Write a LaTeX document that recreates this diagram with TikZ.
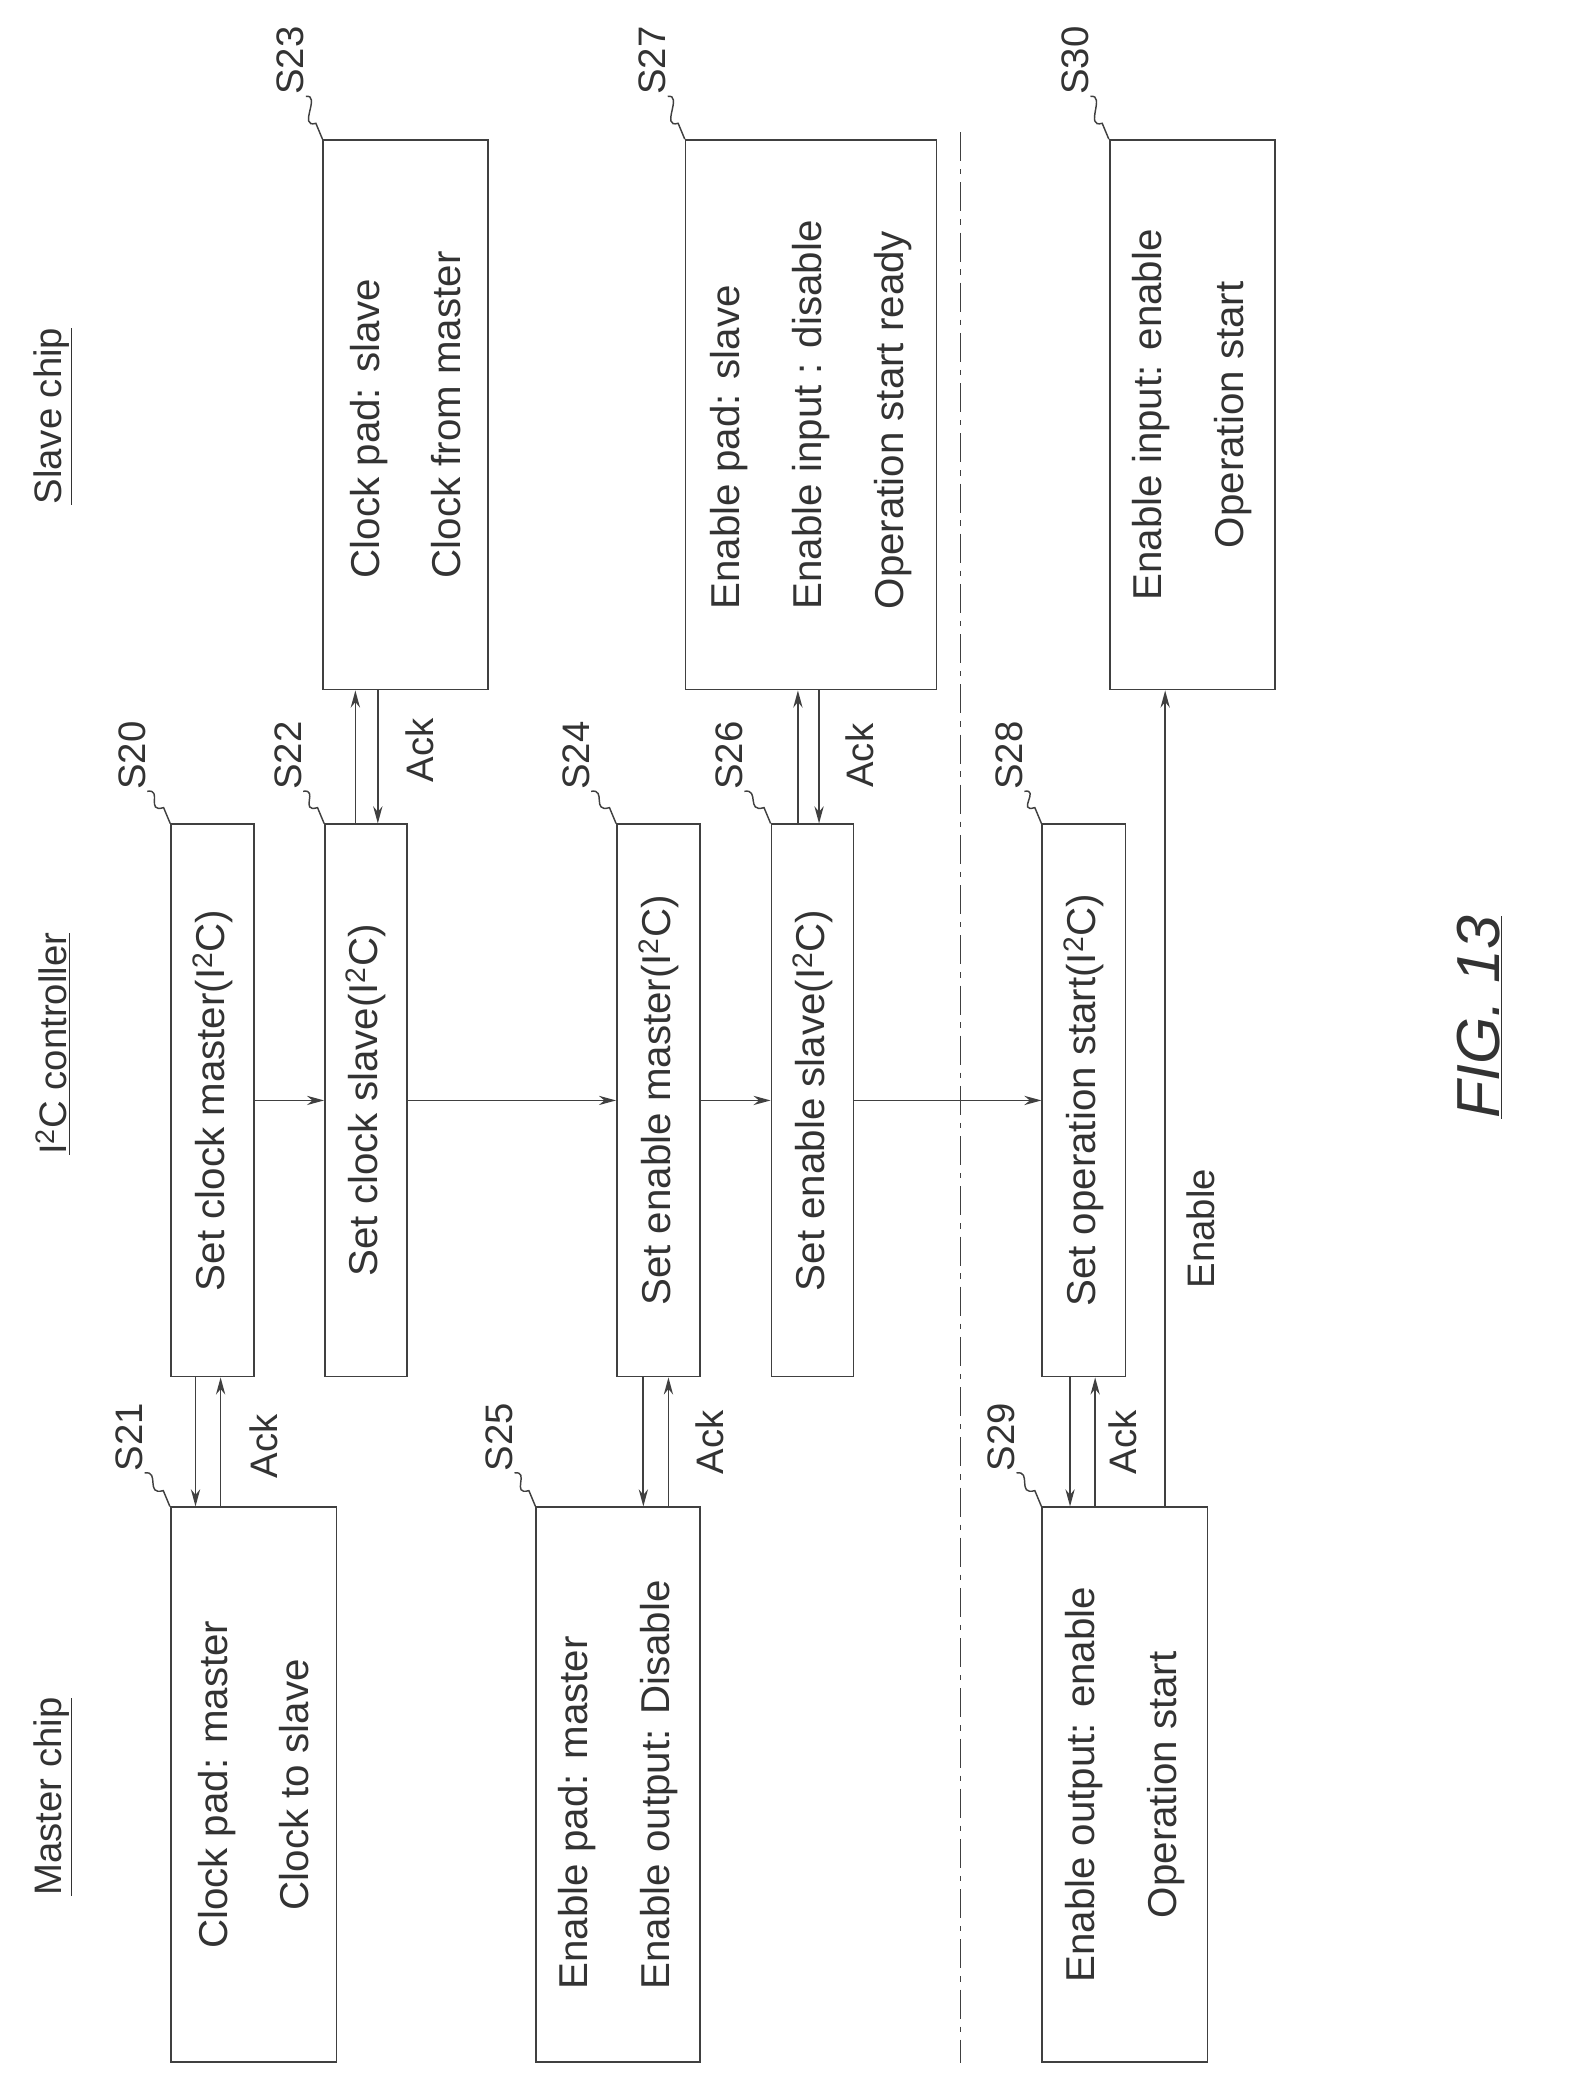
\documentclass[tikz,border=0pt]{standalone}
\usepackage{fontspec}
\setmainfont{Liberation Sans}
\usetikzlibrary{arrows.meta,calc}
\begin{document}
\begin{tikzpicture}[x=1pt,y=-1pt,
  ln/.style={line width=1.3pt, draw=black!75},
  box/.style={ln, rectangle, inner sep=0pt},
  txt/.style={rotate=90, font=\fontsize{30.5}{62}\selectfont, text=black!80, inner sep=0pt},
  lab/.style={rotate=90, font=\fontsize{29}{31}\selectfont, text=black!80, inner sep=1pt},
  arr/.style={ln, -{Stealth[length=13pt,width=7pt]}},
  lead/.style={line width=1.1pt, draw=black!75}]
\useasboundingbox (0,0) rectangle (1190,1573);
% headers
\node[lab] (h1) at (40,1360) {\underline{Master chip}};
\node[lab] (h2) at (40,790) {\underline{I\textsuperscript{2}C controller}};
\node[lab] (h3) at (40,315) {\underline{Slave chip}};
% boxes
\node[box, minimum width=125.5pt, minimum height=420pt] (S21) at (192,1351) {};
\node[box, minimum width=124pt, minimum height=420pt] (S25) at (468,1351) {};
\node[box, minimum width=125pt, minimum height=420pt] (S29) at (851.5,1351) {};
\node[box, minimum width=63pt, minimum height=418pt] (S20) at (161,833) {};
\node[box, minimum width=62pt, minimum height=418pt] (S22) at (277,833) {};
\node[box, minimum width=63pt, minimum height=418pt] (S24) at (498.5,833) {};
\node[box, minimum width=62pt, minimum height=418pt] (S26) at (615,833) {};
\node[box, minimum width=63pt, minimum height=418pt] (S28) at (820.5,833) {};
\node[box, minimum width=124.5pt, minimum height=416pt] (S23) at (307,314) {};
\node[box, minimum width=190pt, minimum height=416pt] (S27) at (614,314) {};
\node[box, minimum width=125pt, minimum height=416pt] (S30) at (902.5,314) {};
% texts
\node[txt, align=center] (t21) at (S21) {Clock pad: master\\Clock to slave};
\node[txt, align=left] (t25) at (S25) {Enable pad: master\\Enable output: Disable};
\node[txt, align=center] (t29) at (S29) {Enable output: enable\\Operation start};
\node[txt] (t20) at (S20) {Set clock master(I\textsuperscript{2}C)};
\node[txt] (t22) at (S22) {Set clock slave(I\textsuperscript{2}C)};
\node[txt] (t24) at (S24) {Set enable master(I\textsuperscript{2}C)};
\node[txt] (t26) at (S26) {Set enable slave(I\textsuperscript{2}C)};
\node[txt] (t28) at (S28) {Set operation start(I\textsuperscript{2}C)};
\node[txt, align=left] (t23) at (S23) {Clock pad: slave\\Clock from master};
\node[txt, align=left] (t27) at (S27) {Enable pad: slave\\Enable input : disable\\Operation start ready};
\node[txt, align=center] (t30) at (S30) {Enable input: enable\\Operation start};
% flow arrows
\draw[arr] (S20.east |- 0,833) -- (S22.west |- 0,833);
\draw[arr] (S22.east |- 0,833) -- (S24.west |- 0,833);
\draw[arr] (S24.east |- 0,833) -- (S26.west |- 0,833);
\draw[arr] (S26.east |- 0,833) -- (S28.west |- 0,833);
% handshakes
\draw[arr] (S20.south -| 148,0) -- (S21.north -| 148,0);
\draw[arr] (S21.north -| 167,0) -- (S20.south -| 167,0);
\node[lab] (a1) at (200,1095) {Ack};
\draw[arr] (S22.north -| 269,0) -- (S23.south -| 269,0);
\draw[arr] (S23.south -| 286,0) -- (S22.north -| 286,0);
\node[lab] (a2) at (318,568) {Ack};
\draw[arr] (S24.south -| 487,0) -- (S25.north -| 487,0);
\draw[arr] (S25.north -| 506,0) -- (S24.south -| 506,0);
\node[lab] (a3) at (537,1092) {Ack};
\draw[arr] (S26.north -| 604,0) -- (S27.south -| 604,0);
\draw[arr] (S27.south -| 620,0) -- (S26.north -| 620,0);
\node[lab] (a4) at (651,572) {Ack};
\draw[arr] (S28.south -| 810,0) -- (S29.north -| 810,0);
\draw[arr] (S29.north -| 829,0) -- (S28.south -| 829,0);
\node[lab] (a5) at (850,1092) {Ack};
\draw[arr] (S29.north -| 882,0) -- (S30.south -| 882,0);
\node[lab] (en) at (909,930) {Enable};
% dash-dot separator
\coordinate (d1) at (727,100); \coordinate (d2) at (727,1562);
\draw[lead, dash pattern=on 22pt off 6pt on 4pt off 6pt] (d1) -- (d2);
% step labels with wavy leaders
\foreach \n/\lx/\ly/\bx in {21/98/1088/S21, 20/100/572/S20, 22/218/572/S22, 23/220/46/S23,
   24/436/572/S24, 25/378/1088/S25, 26/552/572/S26, 27/494/46/S27,
   28/764/572/S28, 29/758/1088/S29, 30/814/46/S30}{
  \node[lab] (L\n) at (\lx,\ly) {S\n};
  \draw[lead] (L\n.south west) .. controls +(12,-2) and +(-14,4) .. ($(\bx.north west)+(-5,-12)$) -- (\bx.north west);
}
\node[rotate=90, font=\fontsize{46}{50}\selectfont\itshape, text=black!80] (fig) at (1120,770) {\underline{FIG. 13}};
\end{tikzpicture}
\end{document}
